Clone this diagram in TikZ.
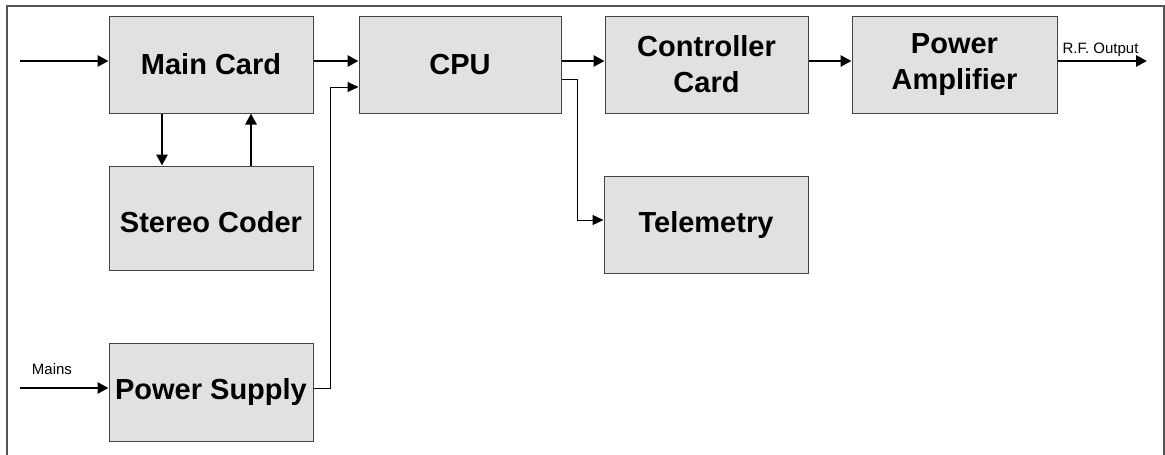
\documentclass[tikz,border=0pt]{standalone}
\usepackage{fontspec}
\setmainfont{Liberation Sans}
\usetikzlibrary{arrows.meta,calc}
\definecolor{boxfill}{HTML}{E1E1E1}
\definecolor{boxline}{HTML}{454545}
\definecolor{framecol}{HTML}{555555}
\tikzset{
  block/.style={draw=boxline, line width=1pt, fill=boxfill, rectangle, inner sep=0pt,
    align=center, font=\bfseries\fontsize{29}{36}\selectfont},
  bigarrow/.style={line width=2.8pt, -{Triangle[length=11pt,width=11pt]}},
  smallarrow/.style={line width=1pt, -{Triangle[length=11pt,width=10pt]}},
  smalllabel/.style={font=\fontsize{15}{18}\selectfont, inner sep=0pt, anchor=base},
  frameline/.style={draw=framecol, line width=2pt}
}
\begin{document}
\begin{tikzpicture}[x=1pt,y=-1pt]
\useasboundingbox (0,0) rectangle (1165,455);
\draw[frameline] (7,455) -- (7,6) -- (1164,6) -- (1164,455);

\node[block, minimum width=204pt, minimum height=97pt] (main) at (211,64.5) {Main Card};
\node[block, minimum width=204pt, minimum height=104pt] (sc) at (211,218) {\raisebox{-4pt}[21pt][0pt]{Stereo Coder}};
\node[block, minimum width=204pt, minimum height=98pt] (ps) at (211,392) {Power Supply};
\node[block, minimum width=202pt, minimum height=97pt] (cpu) at (460,64.5) {CPU};
\node[block, minimum width=203pt, minimum height=97pt] (cc) at (706.5,64.5) {Controller\\Card};
\node[block, minimum width=204pt, minimum height=97pt] (tel) at (706,224.5) {Telemetry};
\node[block, minimum width=205pt, minimum height=97pt] (pa) at (954.5,64.5) {Power\\Amplifier};

\coordinate (in) at (20,61);
\coordinate (mainsin) at (20,388);
\coordinate (rf) at (1147,61);
\coordinate (psj) at (330,87);
\coordinate (telj) at (577,220);

\node[smalllabel] (mainslbl) at (52,374) {Mains};
\node[smalllabel] (rflbl) at (1100.5,53) {R.F. Output};

\draw[bigarrow] (in) -- (main.west |- in);
\draw[bigarrow] ([yshift=3.5pt]main.east) -- ([yshift=3.5pt]cpu.west);
\draw[bigarrow] ([xshift=-49pt]main.south) -- ([xshift=-49pt]sc.north);
\draw[bigarrow] ([xshift=40pt]sc.north) -- ([xshift=40pt]main.south);
\draw[bigarrow] ([yshift=3.5pt]cpu.east) -- ([yshift=3.5pt]cc.west);
\draw[bigarrow] ([yshift=3.5pt]cc.east) -- ([yshift=3.5pt]pa.west);
\draw[bigarrow] ([yshift=3.5pt]pa.east) -- (rf);
\draw[bigarrow] (mainsin) -- (ps.west |- mainsin);
\draw[smallarrow] ([yshift=4pt]ps.east) -| (psj) -- (cpu.west |- psj);
\draw[smallarrow] ([yshift=-14.5pt]cpu.east) -| (telj) -- (tel.west |- telj);
\end{tikzpicture}
\end{document}
